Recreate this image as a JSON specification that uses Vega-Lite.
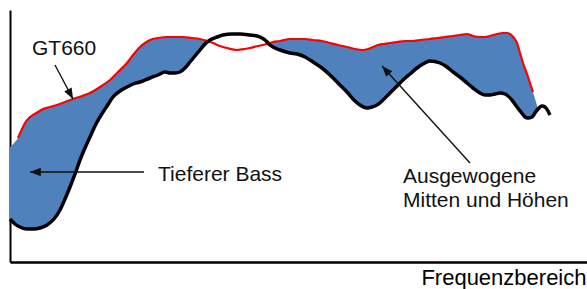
{
  "$schema": "https://vega.github.io/schema/vega-lite/v6.json",
  "width": 577,
  "height": 252,
  "autosize": {"type": "none"},
  "padding": {"left": 10, "top": 10, "right": 0, "bottom": 27},
  "background": "white",
  "config": {"view": {"stroke": null}, "font": "Liberation Sans"},
  "datasets": {
    "black": [
      {"x": 0, "level": 43}, {"x": 5, "level": 38}, {"x": 10, "level": 35}, {"x": 17, "level": 33},
      {"x": 23, "level": 33}, {"x": 30, "level": 34}, {"x": 37, "level": 37}, {"x": 44, "level": 43},
      {"x": 50, "level": 52}, {"x": 55, "level": 63}, {"x": 60, "level": 75}, {"x": 65, "level": 88},
      {"x": 70, "level": 102}, {"x": 75, "level": 114}, {"x": 80, "level": 125}, {"x": 85, "level": 136},
      {"x": 90, "level": 145}, {"x": 97, "level": 156}, {"x": 103, "level": 165}, {"x": 110, "level": 171},
      {"x": 117, "level": 175}, {"x": 123, "level": 178}, {"x": 130, "level": 180}, {"x": 140, "level": 184},
      {"x": 148, "level": 187}, {"x": 155, "level": 190}, {"x": 160, "level": 189}, {"x": 165, "level": 189},
      {"x": 170, "level": 190}, {"x": 175, "level": 194}, {"x": 180, "level": 200}, {"x": 185, "level": 206},
      {"x": 190, "level": 212}, {"x": 195, "level": 218}, {"x": 200, "level": 222}, {"x": 207, "level": 225},
      {"x": 213, "level": 227}, {"x": 222, "level": 228}, {"x": 230, "level": 228}, {"x": 240, "level": 227},
      {"x": 247, "level": 226}, {"x": 252, "level": 224}, {"x": 255, "level": 222}, {"x": 260, "level": 217},
      {"x": 263, "level": 215}, {"x": 270, "level": 212}, {"x": 280, "level": 209}, {"x": 287, "level": 208},
      {"x": 295, "level": 205}, {"x": 303, "level": 200}, {"x": 312, "level": 194}, {"x": 320, "level": 187},
      {"x": 328, "level": 179}, {"x": 337, "level": 170}, {"x": 345, "level": 161}, {"x": 350, "level": 157},
      {"x": 357, "level": 154}, {"x": 362, "level": 155}, {"x": 367, "level": 157}, {"x": 373, "level": 162},
      {"x": 380, "level": 169}, {"x": 387, "level": 176}, {"x": 393, "level": 182}, {"x": 400, "level": 188},
      {"x": 407, "level": 194}, {"x": 413, "level": 198}, {"x": 420, "level": 201}, {"x": 430, "level": 199},
      {"x": 437, "level": 195}, {"x": 443, "level": 190}, {"x": 450, "level": 185}, {"x": 457, "level": 179},
      {"x": 463, "level": 174}, {"x": 470, "level": 169}, {"x": 475, "level": 167}, {"x": 480, "level": 167},
      {"x": 485, "level": 168}, {"x": 490, "level": 169}, {"x": 495, "level": 168}, {"x": 498, "level": 166},
      {"x": 502, "level": 162}, {"x": 507, "level": 155}, {"x": 511, "level": 150}, {"x": 515, "level": 145},
      {"x": 518, "level": 144}, {"x": 522, "level": 145}, {"x": 525, "level": 149}, {"x": 528, "level": 153},
      {"x": 532, "level": 156}, {"x": 535, "level": 155}, {"x": 538, "level": 151}, {"x": 540, "level": 147}
    ],
    "red": [
      {"x": 8, "level": 124}, {"x": 12, "level": 133}, {"x": 15, "level": 139}, {"x": 19, "level": 144},
      {"x": 23, "level": 147}, {"x": 28, "level": 150}, {"x": 33, "level": 153}, {"x": 40, "level": 155},
      {"x": 47, "level": 157}, {"x": 55, "level": 160}, {"x": 63, "level": 163}, {"x": 72, "level": 166},
      {"x": 80, "level": 169}, {"x": 90, "level": 175}, {"x": 100, "level": 182}, {"x": 108, "level": 190},
      {"x": 117, "level": 199}, {"x": 123, "level": 207}, {"x": 130, "level": 215}, {"x": 135, "level": 219},
      {"x": 140, "level": 222}, {"x": 148, "level": 224}, {"x": 157, "level": 225}, {"x": 165, "level": 225},
      {"x": 173, "level": 225}, {"x": 182, "level": 224}, {"x": 190, "level": 223}, {"x": 197, "level": 221},
      {"x": 203, "level": 219}, {"x": 210, "level": 216}, {"x": 217, "level": 214}, {"x": 227, "level": 212},
      {"x": 235, "level": 213}, {"x": 240, "level": 214}, {"x": 248, "level": 216}, {"x": 257, "level": 218},
      {"x": 263, "level": 220}, {"x": 270, "level": 221}, {"x": 280, "level": 223}, {"x": 287, "level": 223},
      {"x": 295, "level": 223}, {"x": 303, "level": 222}, {"x": 312, "level": 221}, {"x": 320, "level": 219},
      {"x": 328, "level": 217}, {"x": 337, "level": 215}, {"x": 345, "level": 213}, {"x": 353, "level": 212},
      {"x": 358, "level": 213}, {"x": 363, "level": 215}, {"x": 368, "level": 217}, {"x": 373, "level": 218},
      {"x": 380, "level": 219}, {"x": 387, "level": 220}, {"x": 395, "level": 221}, {"x": 403, "level": 221},
      {"x": 410, "level": 222}, {"x": 420, "level": 223}, {"x": 427, "level": 224}, {"x": 435, "level": 225},
      {"x": 443, "level": 226}, {"x": 450, "level": 227}, {"x": 457, "level": 228}, {"x": 463, "level": 226},
      {"x": 470, "level": 225}, {"x": 475, "level": 225}, {"x": 480, "level": 226}, {"x": 487, "level": 228},
      {"x": 493, "level": 229}, {"x": 497, "level": 229}, {"x": 500, "level": 228}, {"x": 504, "level": 224},
      {"x": 507, "level": 219}, {"x": 510, "level": 209}, {"x": 513, "level": 199}, {"x": 517, "level": 188},
      {"x": 520, "level": 179}, {"x": 523, "level": 170}
    ],
    "fill": [
      {"seg": "A", "x": 0, "top": 115, "bot": 43}, {"seg": "A", "x": 5, "top": 120, "bot": 38},
      {"seg": "A", "x": 8, "top": 124, "bot": 36}, {"seg": "A", "x": 12, "top": 133, "bot": 34.5},
      {"seg": "A", "x": 15, "top": 139, "bot": 34}, {"seg": "A", "x": 19, "top": 144, "bot": 33},
      {"seg": "A", "x": 23, "top": 147, "bot": 33}, {"seg": "A", "x": 28, "top": 150, "bot": 33.5},
      {"seg": "A", "x": 33, "top": 153, "bot": 35}, {"seg": "A", "x": 40, "top": 155, "bot": 39},
      {"seg": "A", "x": 47, "top": 157, "bot": 47}, {"seg": "A", "x": 55, "top": 160, "bot": 63},
      {"seg": "A", "x": 63, "top": 163, "bot": 83}, {"seg": "A", "x": 72, "top": 166, "bot": 105},
      {"seg": "A", "x": 80, "top": 169, "bot": 125}, {"seg": "A", "x": 90, "top": 175, "bot": 145},
      {"seg": "A", "x": 100, "top": 182, "bot": 160}, {"seg": "A", "x": 108, "top": 190, "bot": 169},
      {"seg": "A", "x": 117, "top": 199, "bot": 175}, {"seg": "A", "x": 123, "top": 207, "bot": 178},
      {"seg": "A", "x": 130, "top": 215, "bot": 180}, {"seg": "A", "x": 135, "top": 219, "bot": 182},
      {"seg": "A", "x": 140, "top": 222, "bot": 184}, {"seg": "A", "x": 148, "top": 224, "bot": 187},
      {"seg": "A", "x": 157, "top": 225, "bot": 190}, {"seg": "A", "x": 165, "top": 225, "bot": 189},
      {"seg": "A", "x": 173, "top": 225, "bot": 191}, {"seg": "A", "x": 182, "top": 224, "bot": 202},
      {"seg": "A", "x": 190, "top": 223, "bot": 212}, {"seg": "A", "x": 195, "top": 222, "bot": 218},
      {"seg": "A", "x": 198.5, "top": 220.5, "bot": 220.5},
      {"seg": "B", "x": 258.5, "top": 218.5, "bot": 218.5}, {"seg": "B", "x": 263, "top": 220, "bot": 215},
      {"seg": "B", "x": 270, "top": 221, "bot": 212}, {"seg": "B", "x": 280, "top": 223, "bot": 209},
      {"seg": "B", "x": 287, "top": 223, "bot": 208}, {"seg": "B", "x": 295, "top": 223, "bot": 205},
      {"seg": "B", "x": 303, "top": 222, "bot": 200}, {"seg": "B", "x": 312, "top": 221, "bot": 194},
      {"seg": "B", "x": 320, "top": 219, "bot": 187}, {"seg": "B", "x": 328, "top": 217, "bot": 179},
      {"seg": "B", "x": 337, "top": 215, "bot": 170}, {"seg": "B", "x": 345, "top": 213, "bot": 161},
      {"seg": "B", "x": 353, "top": 212, "bot": 156}, {"seg": "B", "x": 358, "top": 213, "bot": 154},
      {"seg": "B", "x": 363, "top": 215, "bot": 155}, {"seg": "B", "x": 368, "top": 217, "bot": 157},
      {"seg": "B", "x": 373, "top": 218, "bot": 162}, {"seg": "B", "x": 380, "top": 219, "bot": 169},
      {"seg": "B", "x": 387, "top": 220, "bot": 176}, {"seg": "B", "x": 395, "top": 221, "bot": 183},
      {"seg": "B", "x": 403, "top": 221, "bot": 191}, {"seg": "B", "x": 410, "top": 222, "bot": 196},
      {"seg": "B", "x": 420, "top": 223, "bot": 201}, {"seg": "B", "x": 427, "top": 224, "bot": 200},
      {"seg": "B", "x": 435, "top": 225, "bot": 197}, {"seg": "B", "x": 443, "top": 226, "bot": 190},
      {"seg": "B", "x": 450, "top": 227, "bot": 185}, {"seg": "B", "x": 457, "top": 228, "bot": 179},
      {"seg": "B", "x": 463, "top": 226, "bot": 174}, {"seg": "B", "x": 470, "top": 225, "bot": 169},
      {"seg": "B", "x": 475, "top": 225, "bot": 167}, {"seg": "B", "x": 480, "top": 226, "bot": 167},
      {"seg": "B", "x": 487, "top": 228, "bot": 168.5}, {"seg": "B", "x": 493, "top": 229, "bot": 168.5},
      {"seg": "B", "x": 497, "top": 229, "bot": 167}, {"seg": "B", "x": 500, "top": 228, "bot": 166},
      {"seg": "B", "x": 504, "top": 224, "bot": 162}, {"seg": "B", "x": 507, "top": 219, "bot": 155},
      {"seg": "B", "x": 510, "top": 209, "bot": 151}, {"seg": "B", "x": 513, "top": 199, "bot": 147},
      {"seg": "B", "x": 517, "top": 188, "bot": 145}, {"seg": "B", "x": 520, "top": 179, "bot": 144},
      {"seg": "B", "x": 523, "top": 170, "bot": 145}, {"seg": "B", "x": 526, "top": 160, "bot": 150},
      {"seg": "B", "x": 528, "top": 153, "bot": 153}
    ],
    "arrows": [
      {"tx": 45, "ty": 197, "hx": 63, "hy": 163},
      {"tx": 134, "ty": 90, "hx": 20, "hy": 90},
      {"tx": 460, "ty": 99, "hx": 372, "hy": 196}
    ],
    "labels": [
      {"x": 22, "level": 207, "label": "GT660"},
      {"x": 148, "level": 81, "label": "Tieferer Bass"},
      {"x": 393, "level": 79, "label": "Ausgewogene"},
      {"x": 393, "level": 55, "label": "Mitten und Höhen"}
    ]
  },
  "layer": [
    {
      "data": {"name": "fill"},
      "mark": {"type": "area", "interpolate": "monotone", "color": "#4F81BD", "opacity": 1},
      "encoding": {
        "x": {"field": "x", "type": "quantitative",
              "scale": {"domain": [0, 577], "nice": false, "zero": false},
              "axis": {"domain": true, "domainColor": "black", "domainWidth": 2.5, "ticks": false, "labels": false, "grid": false,
                       "title": "Frequenzbereich", "titleFontSize": 22, "titleFontWeight": "normal", "titleColor": "black",
                       "titleFont": "Liberation Sans", "titleAnchor": "end", "titleAlign": "right", "titleBaseline": "alphabetic",
                       "titleX": 576, "titleY": 22}},
        "y": {"field": "top", "type": "quantitative",
              "scale": {"domain": [0, 252], "nice": false, "zero": false},
              "axis": {"domain": true, "domainColor": "black", "domainWidth": 2, "ticks": false, "labels": false, "grid": false, "title": null}},
        "y2": {"field": "bot"},
        "detail": {"field": "seg", "type": "nominal"}
      }
    },
    {
      "data": {"name": "red"},
      "mark": {"type": "line", "interpolate": "monotone", "color": "#FF0000", "strokeWidth": 2.2},
      "encoding": {
        "x": {"field": "x", "type": "quantitative"},
        "y": {"field": "level", "type": "quantitative"}
      }
    },
    {
      "data": {"name": "black"},
      "mark": {"type": "line", "interpolate": "monotone", "color": "#000000", "strokeWidth": 3.5},
      "encoding": {
        "x": {"field": "x", "type": "quantitative"},
        "y": {"field": "level", "type": "quantitative"}
      }
    },
    {
      "data": {"name": "arrows"},
      "mark": {"type": "rule", "color": "#111111", "strokeWidth": 1.4},
      "encoding": {
        "x": {"field": "tx", "type": "quantitative"},
        "y": {"field": "ty", "type": "quantitative"},
        "x2": {"field": "hx"},
        "y2": {"field": "hy"}
      }
    },
    {
      "data": {"name": "arrows"},
      "transform": [{"calculate": "atan2(datum.hx - datum.tx, datum.hy - datum.ty) * 180 / PI", "as": "ang"}],
      "mark": {"type": "point", "shape": "M0,0L1.4,3.6L-1.4,3.6Z", "filled": true, "color": "#111111", "size": 36, "opacity": 1},
      "encoding": {
        "x": {"field": "hx", "type": "quantitative"},
        "y": {"field": "hy", "type": "quantitative"},
        "angle": {"field": "ang", "type": "quantitative", "scale": null}
      }
    },
    {
      "data": {"name": "labels"},
      "mark": {"type": "text", "align": "left", "baseline": "alphabetic", "fontSize": 21, "font": "Liberation Sans", "color": "#111111"},
      "encoding": {
        "x": {"field": "x", "type": "quantitative"},
        "y": {"field": "level", "type": "quantitative"},
        "text": {"field": "label", "type": "nominal"}
      }
    }
  ]
}
